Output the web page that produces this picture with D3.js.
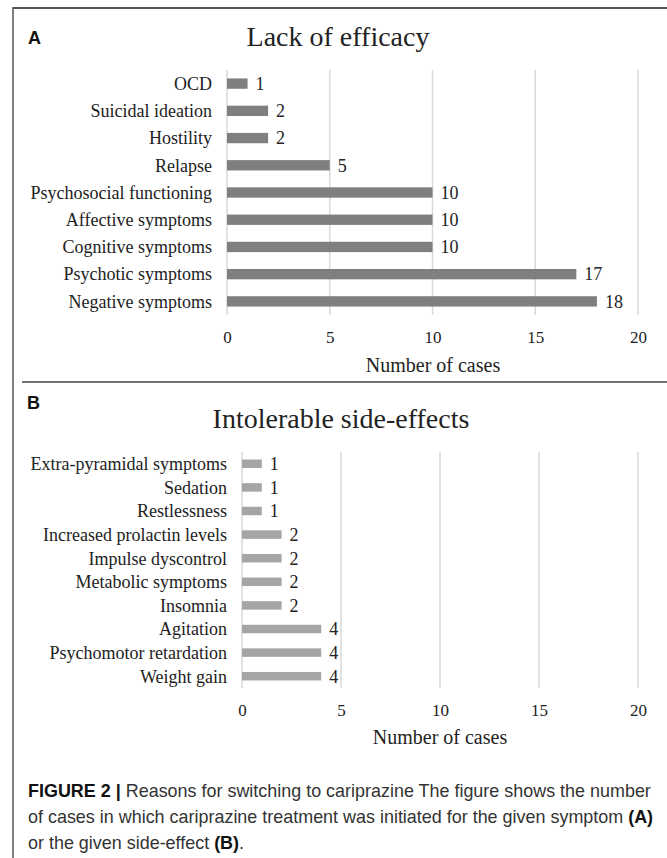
<!DOCTYPE html>
<html>
<head>
<meta charset="utf-8">
<script src="https://cdn.jsdelivr.net/npm/d3@7"></script>
<style>
  body { margin: 0; background: #fff; }
  .cat text, .tick text { font-family: "Liberation Serif", "Times New Roman", serif; fill: #222; }
</style>
</head>
<body>
<svg id="fig" width="667" height="858"></svg>
<script>
// panel A: lack of efficacy (top to bottom)
const effCats = ["OCD", "Suicidal ideation", "Hostility", "Relapse", "Psychosocial functioning",
  "Affective symptoms", "Cognitive symptoms", "Psychotic symptoms", "Negative symptoms"];
const effVals = [1, 2, 2, 5, 10, 10, 10, 17, 18];

// panel B: intolerable side-effects (top to bottom)
const sideCats = ["Extra-pyramidal symptoms", "Sedation", "Restlessness", "Increased prolactin levels",
  "Impulse dyscontrol", "Metabolic symptoms", "Insomnia", "Agitation", "Psychomotor retardation", "Weight gain"];
const sideVals = [1, 1, 1, 2, 2, 2, 2, 4, 4, 4];

const xTicks = [0, 5, 10, 15, 20];
const xMax = 20;

const svg = d3.select("#fig");
const serif = "'Liberation Serif', 'Times New Roman', serif";

// frame lines
svg.append("line").attr("x1", 13).attr("x2", 13).attr("y1", 7).attr("y2", 858)
  .attr("stroke", "#555").attr("stroke-width", 1.5);
svg.append("line").attr("x1", 13).attr("x2", 667).attr("y1", 8).attr("y2", 8)
  .attr("stroke", "#555").attr("stroke-width", 2);
svg.append("line").attr("x1", 22).attr("x2", 667).attr("y1", 382).attr("y2", 382)
  .attr("stroke", "#444").attr("stroke-width", 1.5);

function drawPanel(opt) {
  const g = svg.append("g");

  g.append("text").attr("x", opt.letterX).attr("y", opt.letterY)
    .attr("font-family", "'Liberation Sans', Arial, sans-serif").attr("font-weight", "bold")
    .attr("font-size", 18).attr("fill", "#111").text(opt.letter);

  g.append("text").attr("x", opt.titleX).attr("y", opt.titleY).attr("text-anchor", "middle")
    .attr("font-family", serif).attr("font-size", 28).attr("fill", "#222").text(opt.title);

  const x = d3.scaleLinear().domain([0, xMax]).range([opt.x0, opt.x1]);
  const y = d3.scaleBand().domain(opt.cats).range([opt.top, opt.bottom]).paddingInner(0).paddingOuter(0);
  const barH = y.bandwidth() * opt.barFrac;

  // gridlines
  g.append("g").selectAll("line").data(xTicks).join("line")
    .attr("x1", d => x(d)).attr("x2", d => x(d))
    .attr("y1", opt.top).attr("y2", opt.bottom)
    .attr("stroke", "#d9d9d9").attr("stroke-width", 1.5);

  // bars
  g.append("g").selectAll("rect").data(opt.vals).join("rect")
    .attr("x", x(0))
    .attr("y", (d, i) => y(opt.cats[i]) + (y.bandwidth() - barH) / 2)
    .attr("width", d => x(d) - x(0))
    .attr("height", barH)
    .attr("fill", opt.color);

  // value labels
  g.append("g").selectAll("text").data(opt.vals).join("text")
    .attr("x", d => x(d) + 8)
    .attr("y", (d, i) => y(opt.cats[i]) + y.bandwidth() / 2)
    .attr("dy", "0.35em")
    .attr("font-family", serif).attr("font-size", 18).attr("fill", "#222")
    .text(d => d);

  // category labels
  g.append("g").attr("class", "cat").selectAll("text").data(opt.cats).join("text")
    .attr("x", opt.labelX)
    .attr("y", d => y(d) + y.bandwidth() / 2)
    .attr("dy", "0.35em").attr("text-anchor", "end")
    .attr("font-size", 18)
    .text(d => d);

  // x axis tick labels
  const ax = g.append("g").attr("transform", `translate(0,${opt.bottom})`)
    .call(d3.axisBottom(x).tickValues(xTicks).tickSize(0).tickPadding(opt.tickPad));
  ax.select(".domain").remove();
  ax.selectAll("text").attr("font-size", 17).attr("font-family", serif);

  g.append("text").attr("x", opt.axisTitleX).attr("y", opt.axisTitleY).attr("text-anchor", "middle")
    .attr("font-family", serif).attr("font-size", 20).attr("fill", "#222").text("Number of cases");
}

drawPanel({
  letter: "A", letterX: 28, letterY: 44,
  title: "Lack of efficacy", titleX: 338, titleY: 46,
  cats: effCats, vals: effVals, color: "#7f7f7f",
  x0: 227, x1: 638, top: 70, bottom: 315, barFrac: 0.38,
  labelX: 212, tickPad: 16, axisTitleX: 433, axisTitleY: 372
});

drawPanel({
  letter: "B", letterX: 27, letterY: 409,
  title: "Intolerable side-effects", titleX: 341, titleY: 428,
  cats: sideCats, vals: sideVals, color: "#a5a5a5",
  x0: 242, x1: 638, top: 452, bottom: 688, barFrac: 0.36,
  labelX: 227, tickPad: 16, axisTitleX: 440, axisTitleY: 744
});

// caption: plain sans, squeezed horizontally to the narrow width of the original
const cap = svg.append("g").attr("font-family", "'Liberation Sans', Arial, sans-serif")
  .attr("font-size", 18.5).attr("fill", "#333");

const capLines = [
  { y: 797, parts: [["FIGURE 2 | ", true], ["Reasons for switching to cariprazine The figure shows the number", false]] },
  { y: 823, parts: [["of cases in which cariprazine treatment was initiated for the given symptom ", false], ["(A)", true]] },
  { y: 849, parts: [["or the given side-effect ", false], ["(B)", true], [".", false]] }
];
const firstLineWidth = 623;

let squeeze = 1;
capLines.forEach((line, i) => {
  const t = cap.append("text").attr("x", 0).attr("y", 0);
  line.parts.forEach(p => {
    t.append("tspan").attr("font-weight", p[1] ? "bold" : null).attr("fill", p[1] ? "#111" : null).text(p[0]);
  });
  if (i === 0) squeeze = firstLineWidth / t.node().getComputedTextLength();
  t.attr("transform", `translate(28,${line.y}) scale(${squeeze},1)`);
});
</script>
</body>
</html>
